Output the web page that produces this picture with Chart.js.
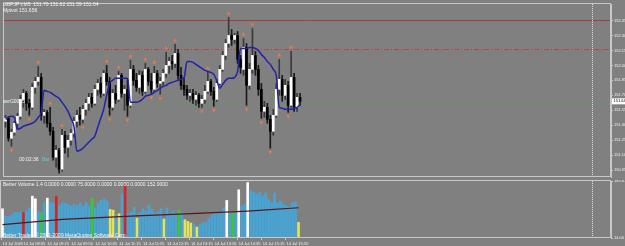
<!DOCTYPE html>
<html><head><meta charset="utf-8">
<script src="https://cdn.jsdelivr.net/npm/chart.js@4.4.1/dist/chart.umd.min.js"></script>
<style>
html,body{margin:0;padding:0;background:#808080;width:625px;height:246px;overflow:hidden;}
canvas{position:absolute;left:0;}
#main{top:0}
#vol{top:180px}
.t{position:absolute;font-family:"Liberation Sans",Arial,sans-serif;font-size:10px;color:#f4f4f4;white-space:nowrap;line-height:1;transform:scale(0.5);transform-origin:0 0;z-index:5}
</style></head><body>
<canvas id="main" width="625" height="181"></canvas>
<canvas id="vol" width="625" height="66"></canvas>
<div class="t" style="left:3px;top:2px">GBPJPY,M5&nbsp; 151.70 151.62 151.59 151.64</div>
<div class="t" style="left:3px;top:8px">Mpivot 151.656</div>
<div class="t" style="left:3px;top:99px">avrG0005</div>
<div class="t" style="left:19px;top:157px">00:02:36</div>
<div class="t" style="left:42px;top:157px;color:#5fd0d0">Bar</div>
<div class="t" style="left:3px;top:182px">Better Volume 1.4 0.0000 0.0000 75.0000 0.0000 0.0000 0.0000 152.0000</div>
<div class="t" style="left:3px;top:233px">Better Trader, © 2001-2009 MetaQuotes Software Corp.</div>
<script>
// ---------- data ----------
const SLOTS = 204;
const open  = [151.44,151.47,151.27,151.33,151.42,151.49,151.66,151.72,151.62,151.58,151.78,151.84,151.88,151.50,151.53,151.42,151.34,151.08,151.15,150.96,
               151.30,151.18,151.25,151.32,151.44,151.50,151.46,151.56,151.62,151.68,151.62,151.76,151.82,151.72,151.92,151.84,151.58,151.72,151.66,151.90,
               151.72,151.76,151.60,151.96,151.85,151.78,151.90,151.74,151.96,151.84,151.76,151.92,151.82,151.84,151.92,152.00,152.04,152.02,152.12,151.90,
               151.80,151.76,151.70,151.72,151.66,151.70,151.62,151.66,151.74,151.84,151.74,151.66,151.82,151.96,152.10,152.22,152.30,152.26,152.30,152.06,
               151.96,152.18,151.80,151.96,152.10,151.96,151.76,151.54,151.58,151.46,151.34,151.50,151.76,151.86,151.70,151.80,151.60,151.88,151.58,151.68];
const high  = [151.50,151.49,151.36,151.44,151.52,151.70,151.76,151.74,151.66,151.82,151.88,151.99,151.92,151.56,151.55,151.58,151.38,151.20,151.17,151.36,
               151.34,151.30,151.36,151.48,151.55,151.58,151.60,151.66,151.72,151.72,151.80,151.86,151.88,151.95,152.00,151.88,151.76,151.80,151.94,151.92,
               151.80,151.86,152.05,152.00,151.92,151.95,151.94,152.02,151.98,151.92,151.99,151.95,151.88,151.96,152.13,152.08,152.10,152.21,152.16,151.98,
               151.88,151.80,151.76,151.76,151.74,151.72,151.70,151.80,151.93,151.86,151.78,151.86,152.00,152.14,152.26,152.48,152.36,152.32,152.34,152.10,
               152.27,152.22,152.02,152.37,152.14,152.00,151.82,151.64,151.62,151.50,151.56,151.82,152.06,151.90,151.86,151.84,152.14,151.92,151.72,151.72];
const low   = [151.38,151.24,151.19,151.30,151.36,151.46,151.58,151.55,151.50,151.56,151.72,151.80,151.45,151.42,151.38,151.30,151.05,150.98,150.92,150.94,
               151.12,151.08,151.20,151.28,151.38,151.40,151.42,151.50,151.55,151.58,151.60,151.70,151.68,151.70,151.80,151.50,151.55,151.62,151.64,151.68,
               151.55,151.49,151.58,151.80,151.74,151.72,151.70,151.72,151.80,151.72,151.74,151.78,151.71,151.80,151.88,151.92,151.96,151.98,151.86,151.76,
               151.70,151.66,151.64,151.62,151.60,151.58,151.58,151.62,151.72,151.70,151.59,151.64,151.80,151.94,152.06,152.18,152.20,152.22,152.02,151.92,
               151.90,151.60,151.76,151.92,151.90,151.70,151.47,151.48,151.42,151.17,151.30,151.48,151.70,151.64,151.66,151.53,151.58,151.54,151.54,151.60];
const close = [151.47,151.27,151.33,151.42,151.49,151.66,151.72,151.62,151.58,151.78,151.84,151.88,151.50,151.53,151.42,151.34,151.08,151.15,150.96,151.30,
               151.18,151.25,151.32,151.44,151.50,151.46,151.56,151.62,151.68,151.62,151.76,151.82,151.72,151.92,151.84,151.58,151.72,151.66,151.90,151.72,
               151.76,151.60,151.96,151.85,151.78,151.90,151.74,151.96,151.84,151.76,151.92,151.82,151.84,151.92,152.00,152.04,152.02,152.12,151.90,151.80,
               151.76,151.70,151.72,151.66,151.70,151.62,151.66,151.74,151.84,151.74,151.66,151.82,151.96,152.10,152.22,152.30,152.26,152.30,152.06,151.98,
               152.18,151.80,151.96,152.10,151.96,151.76,151.54,151.58,151.46,151.34,151.50,151.76,151.86,151.70,151.80,151.60,151.88,151.58,151.68,151.64];
const maLine = [151.46,151.48,151.49,151.48,151.36,151.37,151.39,151.40,151.41,151.42,151.44,151.48,151.53,151.75,151.74,151.73,151.71,151.69,151.67,151.63,
                151.59,151.54,151.47,151.39,151.14,151.15,151.17,151.20,151.23,151.26,151.29,151.38,151.47,151.56,151.70,151.82,151.85,151.87,151.87,151.87,
                151.87,151.87,151.63,151.63,151.63,151.64,151.66,151.69,151.70,151.71,151.73,151.75,151.77,151.79,151.80,151.82,151.83,151.84,151.85,151.86,
                151.87,152.04,152.04,152.03,152.01,151.99,151.97,151.95,151.94,151.93,151.91,151.85,151.77,151.81,151.85,151.87,151.87,151.88,151.94,152.17,
                152.17,152.17,152.18,152.18,152.17,152.15,152.11,152.08,152.04,152.01,151.96,151.90,151.58,151.57,151.56,151.56,151.56,151.57,151.58,151.61];
const upIdx = [11,15,19,34,38,42,47,50,54,57,68,75,80,83,92,96];
const upVal = [152.03,151.62,151.40,152.04,151.98,152.09,152.06,152.03,152.17,152.25,151.97,152.52,152.31,152.41,152.10,152.18];
const dnIdx = [2,8,18,26,35,41,46,49,52,66,70,81,86,89,95];
const dnVal = [151.15,151.46,150.88,151.38,151.46,151.45,151.66,151.68,151.67,151.54,151.55,151.56,151.43,151.13,151.49];
const volume = [102,79,79,84,90,90,91,91,94,105,140,132,94,90,120,134,122,118,140,112,
                120,118,115,110,115,112,120,110,120,110,133,105,120,127,132,125,100,98,84,87,
                146,176,87,91,107,74,91,102,94,112,100,87,91,102,71,105,84,94,87,98,
                91,69,64,59,54,47,54,59,61,71,84,87,91,91,105,127,94,90,91,159,
                110,115,181,156,153,146,151,140,149,130,120,149,120,125,115,110,108,120,122,61];
const volKind = ['w','b','b','b','b','b','b','r','b','b','w','w','b','g','b','w','b','b','r','b',
                 'b','b','b','b','b','b','b','b','b','b','g','b','b','b','b','b','y','y','b','y',
                 'b','r','b','b','b','y','b','b','b','b','b','b','b','b','y','b','b','b','b','g',
                 'b','y','y','y','b','y','b','b','b','b','b','b','b','b','b','w','b','g','b','w',
                 'b','b','w','b','b','b','b','b','b','b','b','b','b','b','b','b','b','b','b','y'];
const volAvgIdx = [0,20,43,65,82,99];
const volAvgVal = [54,70,80,88,95,105];
const priceTicks = [152.45,152.30,152.15,152.00,151.85,151.70,151.55,151.40,151.25,151.10,150.95];
const volTicks = [185.61,14.00];
const timeTickIdx = [0,7,15,23,31,39,47,55,63,71,79,87,95];
const timeTickText = ['14 Jul 2009','14 Jul 08:35','14 Jul 09:15','14 Jul 09:55','14 Jul 10:35','14 Jul 11:15','14 Jul 11:55',
                      '14 Jul 12:35','14 Jul 13:15','14 Jul 13:55','14 Jul 14:35','14 Jul 15:15','14 Jul 15:55'];
const levelSolid = 152.45, levelDashDot = 152.16, levelGreen = 151.61;
const lastPrice = 151.64;
const vlineIdx = 197;
const priceMin = 150.882, priceMax = 152.615;

// ---------- helpers ----------
const FONT = '"Liberation Sans", Arial, sans-serif';
const pad = (arr) => { const a = new Array(SLOTS).fill(null); arr.forEach((v,i)=>a[i]=v); return a; };
const sparse = (idx, vals) => { const a = new Array(SLOTS).fill(null); idx.forEach((k,j)=>a[k]=vals[j]); return a; };
const labels = Array.from({length:SLOTS}, (_,i)=>String(i));
const tickMap = {}; timeTickIdx.forEach((k,j)=>tickMap[k]=timeTickText[j]);
const volColors = {b:'#45a5d7', w:'#ffffff', r:'#d02828', g:'#38c838', y:'#e4e45a'};
const AXIS = '#c8c8c8';

const framePlugin = (isMain) => ({
  id: 'frame' + (isMain?'M':'V'),
  beforeDatasetsDraw(chart) {
    const {ctx, chartArea:a, scales} = chart;
    ctx.save();
    if (isMain) {
      const y = scales.y;
      const line = (v, col, dash) => {
        const py = Math.round(y.getPixelForValue(v)) + 0.5;
        ctx.strokeStyle = col; ctx.lineWidth = 1; ctx.setLineDash(dash);
        ctx.beginPath(); ctx.moveTo(a.left, py); ctx.lineTo(a.right, py); ctx.stroke();
      };
      line(levelSolid, '#a83c3c', []);
      line(levelDashDot, '#b44848', [5,2,1,2]);
      line(levelGreen, '#5f9a5f', [2,2]);
    }
    ctx.restore();
  },
  afterDraw(chart) {
    const {ctx, chartArea:a, scales} = chart;
    ctx.save();
    const vx = Math.round(scales.x.getPixelForValue(vlineIdx)) + 0.5;
    ctx.strokeStyle = '#e0e0e0'; ctx.lineWidth = 1; ctx.setLineDash([1,1]);
    ctx.beginPath(); ctx.moveTo(vx, a.top); ctx.lineTo(vx, a.bottom); ctx.stroke();
    ctx.setLineDash([]);
    ctx.strokeStyle = AXIS;
    ctx.strokeRect(a.left - 0.5, a.top - 0.5, a.right - a.left, a.bottom - a.top);
    if (isMain) {
      const py = scales.y.getPixelForValue(lastPrice);
      ctx.fillStyle = '#ffffff';
      ctx.fillRect(a.right + 1, py - 3, 13, 6);
      ctx.fillStyle = '#000000';
      ctx.font = '4px ' + FONT; ctx.textBaseline = 'middle'; ctx.textAlign = 'left';
      ctx.fillText(lastPrice.toFixed(2), a.right + 2.5, py);
    }
    ctx.restore();
  }
});

const yAxisBase = (min, max, tickVals) => ({
  position: 'right', min, max,
  afterFit(s) { s.width = 14; s.paddingTop = 0; s.paddingBottom = 0; },
  afterBuildTicks(s) { s.ticks = tickVals.map(v => ({value: v})); },
  ticks: { color: '#f0f0f0', font: {size: 4, family: FONT}, padding: 1, callback: v => Number(v).toFixed(2) },
  grid: { drawOnChartArea: false, tickLength: 2, color: AXIS },
  border: { display: true, color: AXIS }
});

Chart.defaults.font.family = FONT;

// ---------- main chart ----------
const bull = open.map((o,i)=> close[i] >= o);
new Chart(document.getElementById('main'), {
  data: {
    labels,
    datasets: [
      { type:'line', data: pad(maLine), borderColor:'#2222a8', borderWidth:1.5, pointRadius:0, cubicInterpolationMode:'monotone', order:0 },
      { type:'line', data: sparse(upIdx, upVal), showLine:false, pointStyle:'triangle', pointRadius:2.3, pointBorderWidth:0, pointBackgroundColor:'#e8794a', order:0 },
      { type:'line', data: sparse(dnIdx, dnVal), showLine:false, pointStyle:'triangle', pointRotation:180, pointRadius:2.3, pointBorderWidth:0, pointBackgroundColor:'#e8794a', order:0 },
      { type:'bar', data: pad(open.map((o,i)=>[o, close[i]])), backgroundColor: pad(bull.map(b=> b ? '#ffffff' : '#000000')), barThickness:2, grouped:false, order:1 },
      { type:'bar', data: pad(low.map((l,i)=>[l, high[i]])), backgroundColor: pad(bull.map(b=> b ? '#3a3a3a' : '#1a1a1a')), barThickness:1, grouped:false, order:2 }
    ]
  },
  options: {
    responsive:false, animation:false, events:[],
    layout:{ padding:{ left:1, top:1, right:0, bottom:1 } },
    plugins:{ legend:{display:false}, tooltip:{enabled:false} },
    scales:{
      x:{ type:'category', display:false, offset:true, grid:{display:false} },
      y: yAxisBase(priceMin, priceMax, priceTicks)
    }
  },
  plugins:[framePlugin(true)]
});

// ---------- volume chart ----------
new Chart(document.getElementById('vol'), {
  data: {
    labels,
    datasets: [
      { type:'line', data: sparse(volAvgIdx, volAvgVal), spanGaps:true, borderColor:'#5a1616', borderWidth:1.2, pointRadius:0, order:0 },
      { type:'bar', data: pad(volume), backgroundColor: pad(volKind.map(k=>volColors[k])), barThickness:2, order:1 }
    ]
  },
  options: {
    responsive:false, animation:false, events:[],
    layout:{ padding:{ left:1, top:1, right:0, bottom:0 } },
    plugins:{ legend:{display:false}, tooltip:{enabled:false} },
    scales:{
      x:{ type:'category', offset:true, position:'bottom',
          afterFit(s){ s.height = 8; s.paddingLeft = 0; s.paddingRight = 0; },
          ticks:{ autoSkip:false, maxRotation:0, minRotation:0, align:'start', color:'#f0f0f0', font:{size:4, family:FONT}, padding:1,
                  callback:(v,i)=> tickMap[i] !== undefined ? tickMap[i] : '' },
          grid:{ drawOnChartArea:false, tickLength:2, color:(c)=> tickMap[c.index] !== undefined ? AXIS : 'rgba(0,0,0,0)' },
          border:{ display:false } },
      y: yAxisBase(14, 185.61, volTicks)
    }
  },
  plugins:[framePlugin(false)]
});
</script>
</body></html>
